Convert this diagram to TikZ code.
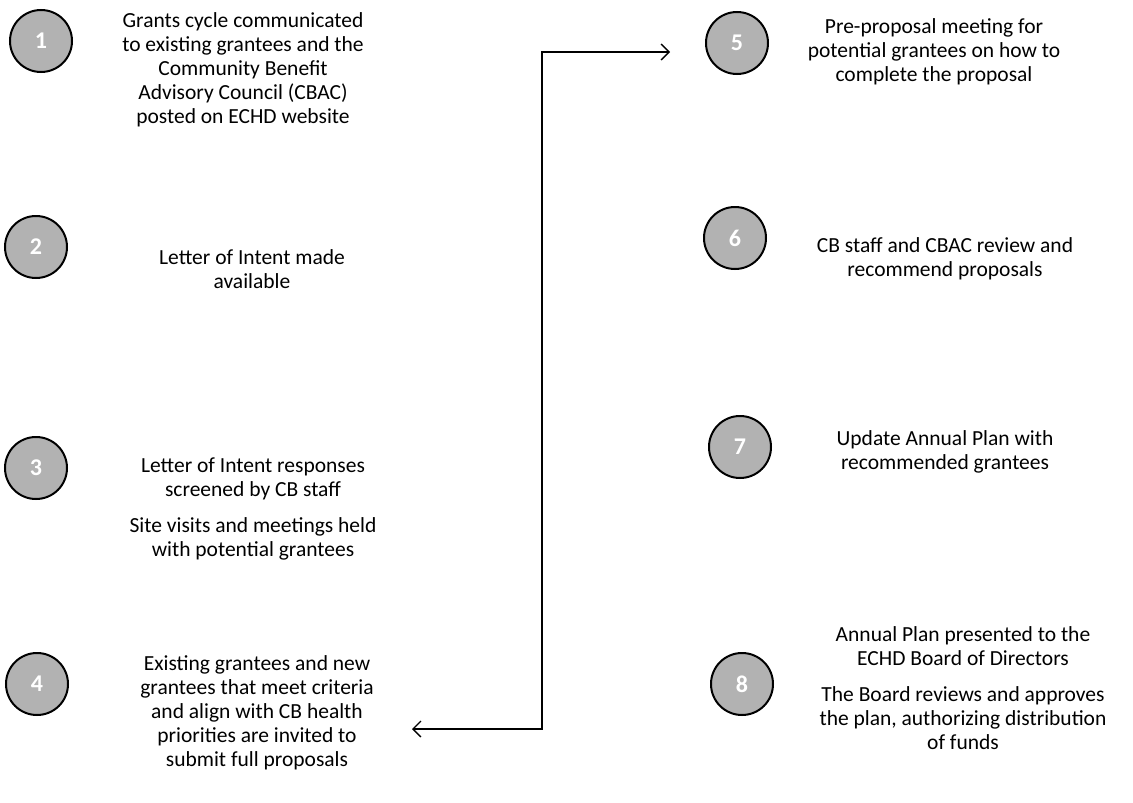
\documentclass[tikz,border=0pt]{standalone}
\usepackage{fontspec}
\setmainfont{Carlito}
\usetikzlibrary{arrows.meta}
\tikzset{
  num/.style={circle, minimum size=62pt, inner sep=0pt, draw=black, line width=2pt,
    fill=gray!60, text=white, font=\fontsize{24}{24}\selectfont\bfseries},
  txt/.style={align=center, inner sep=0pt, font=\fontsize{21.5}{24}\selectfont, text=black},
  arr/.style={line width=1.3pt, {Straight Barb[length=8pt,width=16pt]}-{Straight Barb[length=8pt,width=16pt]}}
}
\begin{document}
\begin{tikzpicture}[x=1pt,y=-1pt]
\useasboundingbox (0,0) rectangle (1133,803);
\node[num] (c1) at (41,41) {1};
\node[num] (c2) at (36,247) {2};
\node[num] (c3) at (36,468) {3};
\node[num] (c4) at (37,684) {4};
\node[num] (c5) at (737,43) {5};
\node[num] (c6) at (735,238) {6};
\node[num] (c7) at (740,447) {7};
\node[num] (c8) at (742,684) {8};

\node[txt] (t1) at (243,70) {Grants cycle communicated\\to existing grantees and the\\Community Benefit\\Advisory Council (CBAC)\\posted on ECHD website};
\node[txt] (t2) at (252,269) {Letter of Intent made\\available};
\node[txt] (t3) at (253,509) {Letter of Intent responses\\screened by CB staff\\[12pt]Site visits and meetings held\\with potential grantees};
\node[txt] (t4) at (257,713) {Existing grantees and new\\grantees that meet criteria\\and align with CB health\\priorities are invited to\\submit full proposals};
\node[txt] (t5) at (934,52) {Pre-proposal meeting for\\potential grantees on how to\\complete the proposal};
\node[txt] (t6) at (945,259) {CB staff and CBAC review and\\recommend proposals};
\node[txt] (t7) at (945,452) {Update Annual Plan with\\recommended grantees};
\node[txt] (t8) at (963,688) {Annual Plan presented to the\\ECHD Board of Directors\\[12pt]The Board reviews and approves\\the plan, authorizing distribution\\of funds};

\coordinate (e4) at (412,729);
\coordinate (e5) at (670,52);
\draw[arr] (e4) -- ++(130,0) |- (e5);
\end{tikzpicture}
\end{document}
